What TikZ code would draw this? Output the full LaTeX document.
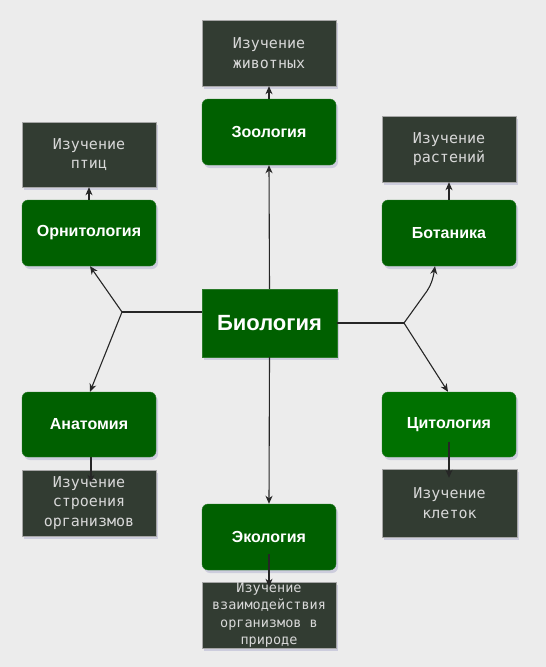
\documentclass[tikz,border=0pt]{standalone}
\usepackage{fontspec}
\setmainfont{Liberation Sans}
\newfontfamily\monofam{DejaVu Sans Mono}
\usetikzlibrary{arrows.meta,shadows,calc}
\definecolor{bg}{HTML}{ECECEC}
\definecolor{gbox}{HTML}{006000}
\definecolor{gboxb}{HTML}{007100}
\definecolor{dbox}{HTML}{323C32}
\definecolor{dtext}{HTML}{D8D8D8}
\definecolor{gline}{HTML}{2A7A2A}
\definecolor{shade}{HTML}{B0B0D0}
\begin{document}
\begin{tikzpicture}[x=1pt,y=-1pt,
 sh/.style={drop shadow={shadow xshift=2pt,shadow yshift=-3pt,fill=shade,opacity=0.5}},
 gnode/.style={sh,draw=gline,fill=gbox,rounded corners=6pt,minimum width=134pt,minimum height=66pt,inner sep=0pt,text=white,font=\bfseries\fontsize{16}{19}\selectfont},
 dnode/.style={sh,draw=gray!70,fill=dbox,minimum width=134pt,minimum height=66pt,inner sep=0pt,text=dtext,align=center,font=\monofam\fontsize{15}{19.5}\selectfont},
 con/.style={draw=black!85,line width=1.1pt},
 arr/.style={con,-{Stealth[length=8pt,width=7pt,inset=2.5pt]}}]
\fill[bg] (0,0) rectangle (546,667);
\useasboundingbox (0,0) rectangle (546,667);
% nodes
\node[gnode,rounded corners=0pt,minimum width=135pt,minimum height=68pt,font=\bfseries\fontsize{22}{25}\selectfont] (bio) at (269.5,323) {Биология};
\node[gnode] (zoo) at (269,132) {Зоология};
\node[dnode] (zood) at (269,53) {Изучение\\животных};
\node[gnode] (orn) at (89,233) {Орнитология};
\node[dnode,minimum height=65pt] (ornd) at (89,154.5) {Изучение\\птиц};
\node[gnode,minimum height=65pt] (anat) at (89,424.5) {Анатомия};
\node[dnode] (anatd) at (89,503) {Изучение\\строения\\организмов};
\node[gnode] (bot) at (449,233) {Ботаника};
\node[dnode] (botd) at (449,149) {Изучение\\растений};
\node[gnode,fill=gboxb,minimum height=65pt] (cyt) at (449,424.5) {Цитология};
\node[dnode,minimum width=135pt,minimum height=68pt] (cytd) at (449.5,503) {Изучение\\клеток};
\node[gnode] (eco) at (269,537) {Экология};
\node[dnode,font=\monofam\fontsize{13.5}{17.5}\selectfont] (ecod) at (269,615) {Изучение\\взаимодействия\\организмов в\\природе};
% junctions
\coordinate (jl) at (122,312);
\coordinate (jr) at (404,323);
\coordinate (bend) at (427,291);
% connectors
\draw[arr] (bio.north) -- (zoo.south);
\draw[arr] (bio.south) -- (eco.north);
\draw[arr] (zoo.north) -- (zood.south);
\draw[arr] (orn.north) -- (ornd.south);
\draw[arr] (bot.north) -- (botd.south);
\draw[arr] ($(anat.south)+(2,0)$) -- ($(anatd.north)+(2,13)$);
\draw[arr] ($(cyt.center)+(0,17)$) -- ($(cytd.north)+(-0.5,9)$);
\draw[arr] ($(eco.center)+(0,17)$) -- ($(ecod.north)+(0,5)$);
\draw[con] (bio.west |- jl) -- (jl);
\draw[arr] (jl) -- ($(orn.south)+(1,0)$);
\draw[arr] (jl) -- ($(anat.north)+(1,0)$);
\draw[con] (bio.east) -- (jr);
\draw[arr] (jr) -- (bend) .. controls ($(bend)+(4,-6)$) and ($(bend)+(6,-12)$) .. ($(bot.south)+(-14,0)$);
\draw[arr] (jr) -- ($(cyt.north)+(-1,0)$);
\end{tikzpicture}
\end{document}
